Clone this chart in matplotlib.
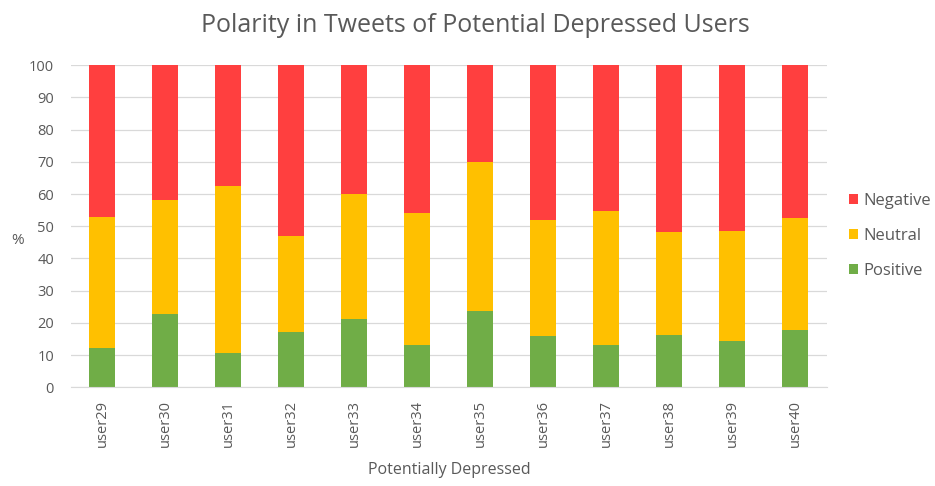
import matplotlib
matplotlib.use("Agg")
import matplotlib.pyplot as plt
import numpy as np

users = ["user29", "user30", "user31", "user32", "user33", "user34",
         "user35", "user36", "user37", "user38", "user39", "user40"]
positive = [12.1, 22.7, 10.7, 17.3, 21.2, 13.1, 23.7, 15.9, 13.0, 16.3, 14.4, 17.8]
neutral = [40.7, 35.5, 51.8, 29.7, 38.8, 41.1, 46.1, 36.1, 41.8, 31.8, 34.1, 34.6]
negative = [47.2, 41.8, 37.5, 53.0, 40.0, 45.8, 30.2, 48.0, 45.2, 51.9, 51.5, 47.6]
yticks = list(range(0, 101, 10))

text_color = "#595959"
plt.rcParams["font.family"] = ["Open Sans", "DejaVu Sans"]

fig = plt.figure(figsize=(9.35, 4.86), dpi=100)
ax = fig.add_axes([0.0757, 0.203, 0.8086, 0.663])

x = np.arange(len(users))
w = 0.41
ax.bar(x, positive, w, color="#70ad47", label="Positive", zorder=2)
ax.bar(x, neutral, w, bottom=positive, color="#ffc000", label="Neutral", zorder=2)
bottom2 = np.array(positive) + np.array(neutral)
ax.bar(x, negative, w, bottom=bottom2, color="#ff3f3f", label="Negative", zorder=2)

ax.set_xlim(-0.5, len(users) - 0.5)
ax.set_ylim(0, 100)
ax.set_yticks(yticks)
ax.set_yticklabels([str(t) for t in yticks], fontsize=10.5, color=text_color)
ax.set_xticks(x)
ax.set_xticklabels(users, rotation=90, fontsize=10.5, color=text_color)
ax.tick_params(length=0)
ax.tick_params(axis="y", pad=12)
ax.tick_params(axis="x", pad=9)
ax.grid(axis="y", color="#d9d9d9", linewidth=0.9, zorder=0)
for s in ["top", "right", "left"]:
    ax.spines[s].set_visible(False)
ax.spines["bottom"].set_color("#d9d9d9")
ax.spines["bottom"].set_zorder(3)

fig.text(0.508, 0.948, "Polarity in Tweets of Potential Depressed Users",
         ha="center", va="center", fontsize=18, color=text_color)
fig.text(0.019, 0.506, "%", ha="center", va="center", fontsize=11, color=text_color)
fig.text(0.481, 0.033, "Potentially Depressed", ha="center", va="center",
         fontsize=11.5, color=text_color)

handles, labels = ax.get_legend_handles_labels()
leg = fig.legend(handles[::-1], labels[::-1], loc="center left",
                 bbox_to_anchor=(0.892, 0.514), frameon=False, fontsize=12,
                 handlelength=0.55, handleheight=0.55, handletextpad=0.3,
                 labelspacing=1.15, labelcolor=text_color)

fig.savefig("out.png", dpi=100)
